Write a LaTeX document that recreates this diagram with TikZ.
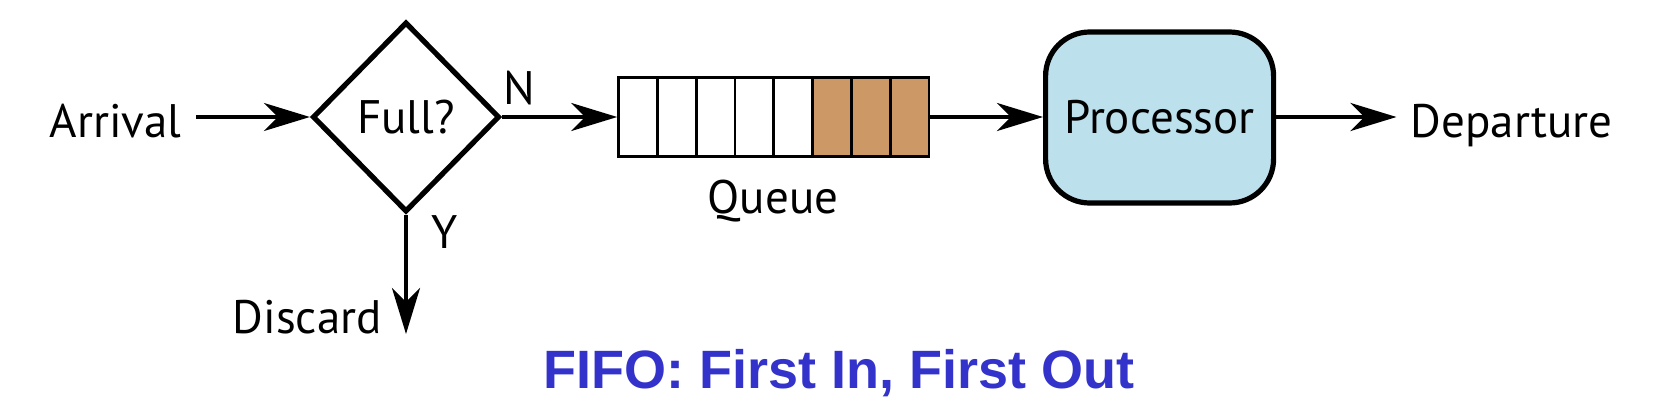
\documentclass[tikz,border=0pt]{standalone}
\usepackage{fontspec}
\setmainfont{PT Sans}
\newfontfamily\titlefont{Liberation Sans}
\usetikzlibrary{shapes.geometric,arrows.meta}
\definecolor{queuetan}{RGB}{204,153,102}
\definecolor{procblue}{RGB}{188,224,236}
\definecolor{titleblue}{RGB}{51,51,204}
\begin{document}
\begin{tikzpicture}[
    x=0.5pt, y=-0.5pt,
    arr/.style={-{Stealth[length=23pt,width=14pt,inset=7pt]}, line width=2pt},
    fnt/.style={font=\fontsize{23.5}{28}\selectfont},
    txt/.style={fnt, inner sep=7pt},
    tag/.style={fnt, inner sep=0pt},
    decision/.style={diamond, draw, fnt, line width=2.6pt,
      minimum width=93.5pt, minimum height=95pt, inner sep=0pt},
    cell/.style={draw, line width=1.4pt, minimum width=19.4pt,
      minimum height=39.5pt, inner sep=0pt},
    proc/.style={draw, fnt, line width=2.6pt, rounded corners=22pt,
      fill=procblue, minimum width=114pt, minimum height=85.5pt},
    title/.style={font=\titlefont\bfseries\fontsize{27}{32}\selectfont,
      text=titleblue}
  ]
    \useasboundingbox (0,0) rectangle (1678,402);
    \node[txt, anchor=base east] (arrival) at (196,137) {Arrival};
    \node[decision] (full) at (406,117) {\raisebox{-2pt}{Full?}};
    \node[tag, anchor=base west] (no) at (503,104) {N};
    \node[tag, anchor=base west] (yes) at (431,248) {Y};
    \coordinate (drop) at (406,334);
    \node[txt, anchor=base east] (discard) at (396,333) {Discard};
    \foreach \i/\col in {1/white,2/white,3/white,4/white,5/white,
                         6/queuetan,7/queuetan,8/queuetan}
      \node[cell, fill=\col] (c\i) at ({618.6+38.8*(\i-0.5)},117) {};
    \node[tag, anchor=base] (queue) at (773,213) {Queue};
    \node[proc] (proc) at (1159.6,117.5) {Processor};
    \node[txt, anchor=base west] (dep) at (1396.5,137) {Departure};
    \node[title, anchor=base] (fifo) at (839,388) {FIFO: First In, First Out};
    \draw[arr] (full.west -| arrival.east) -- (full.west);
    \draw[arr] (full.east) -- (c1.west);
    \draw[arr] (c8.east) -- (c8.east -| proc.west);
    \draw[arr] (proc.east |- c8.east) -- (c8.east -| dep.west);
    \draw[arr] (full.south) -- (drop);
  \end{tikzpicture}
\end{document}
